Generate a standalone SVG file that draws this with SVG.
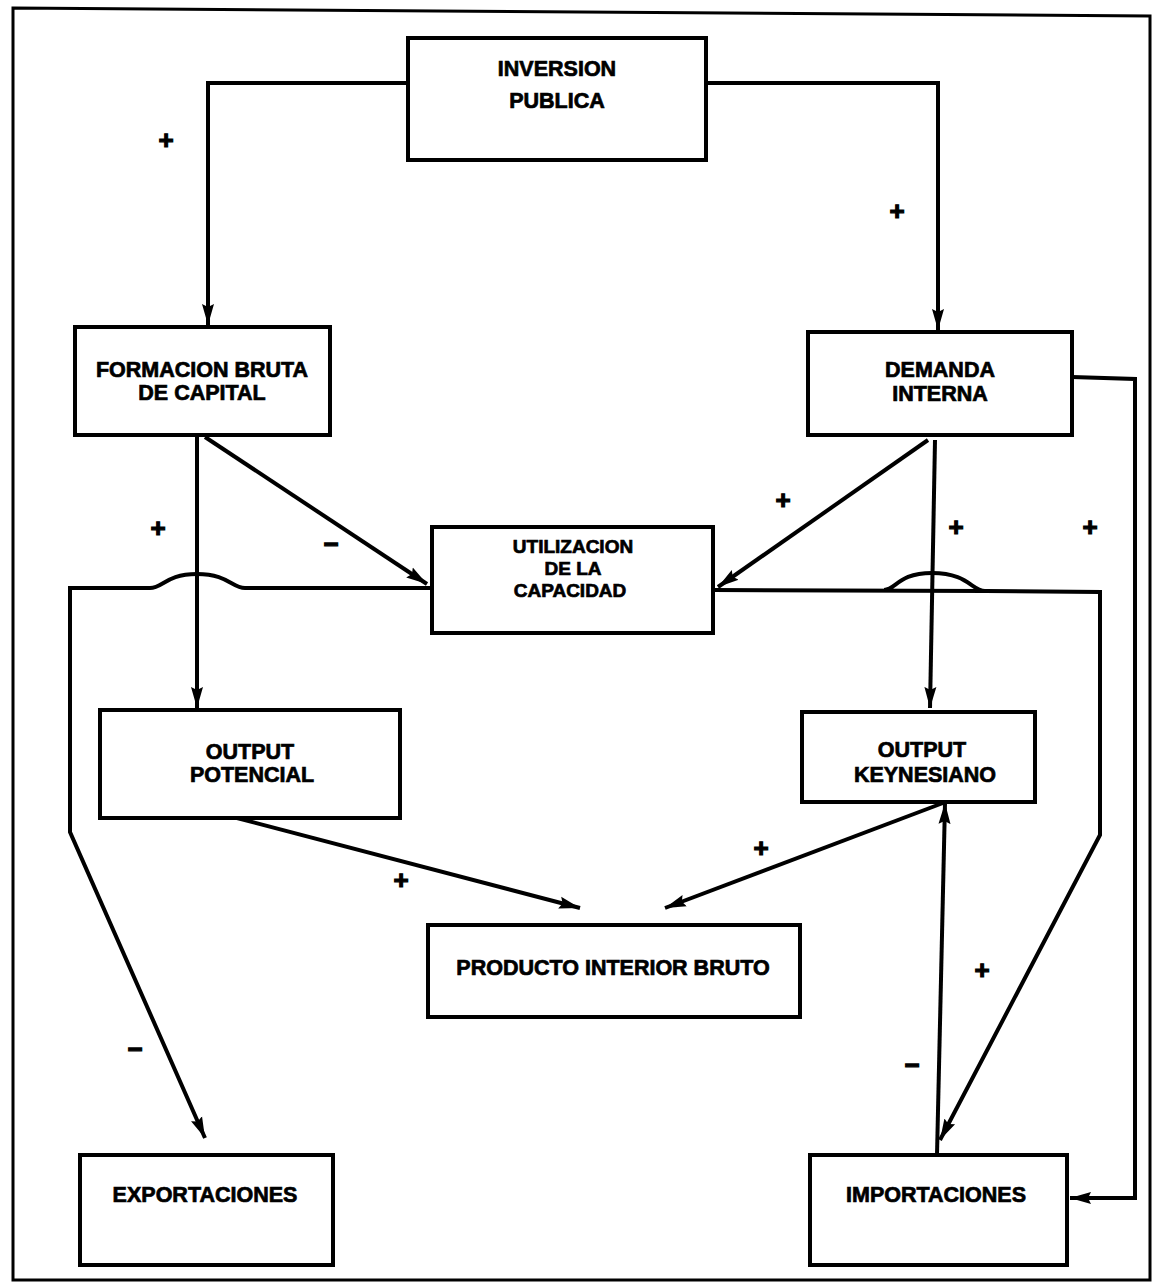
<svg xmlns="http://www.w3.org/2000/svg" width="1157" height="1287" viewBox="0 0 1157 1287">
<style>
.box{fill:#fff;stroke:#000;stroke-width:4}
.t{font-family:"Liberation Sans",Arial,sans-serif;font-weight:bold;font-size:21.5px;text-anchor:middle;fill:#000;stroke:#000;stroke-width:0.7}
.u{font-size:19px}
.c{fill:none;stroke:#000;stroke-width:4;stroke-linejoin:miter}
.s{font-family:"Liberation Sans",Arial,sans-serif;font-weight:bold;font-size:26px;text-anchor:middle;fill:#000;stroke:#000;stroke-width:1.2}
</style>
<defs>
<marker id="ah" markerUnits="userSpaceOnUse" markerWidth="24" markerHeight="16" refX="21" refY="8" orient="auto">
<path d="M0,2 L21,8 L0,14 L3,8 Z" fill="#000"/>
</marker>
</defs>
<rect width="1157" height="1287" fill="#fff"/>
<path d="M13,8 L1150,16 L1150,1280 L13,1280 Z" fill="none" stroke="#000" stroke-width="3"/>

<g id="connectors">
<path class="c" d="M408,83 L208,83 L208,325" marker-end="url(#ah)"/>
<path class="c" d="M706,83 L938,83 L938,330" marker-end="url(#ah)"/>
<path class="c" d="M197,437 L197,708" marker-end="url(#ah)"/>
<path class="c" d="M205,437 L427,584" marker-end="url(#ah)"/>
<path class="c" d="M928,440 L718,587" marker-end="url(#ah)"/>
<path class="c" d="M935,440 L930,708" marker-end="url(#ah)"/>
<path class="c" d="M432,588 L245,588 C232,588 228,574 197,574 C166,574 163,588 150,588 L70,588 L70,832 L205,1138" marker-end="url(#ah)"/>
<path class="c" d="M713,590 L985,591 C972,591 968,573 932,573 C898,573 896,590 884,590" />
<path class="c" d="M985,591 L1100,592 L1100,835 L940,1140" marker-end="url(#ah)"/>
<path class="c" d="M1072,377 L1135,379 L1135,1198 L1070,1198" marker-end="url(#ah)"/>
<path class="c" d="M237,818 L580,908" marker-end="url(#ah)"/>
<path class="c" d="M943,803 L665,908" marker-end="url(#ah)"/>
<path class="c" d="M937,1155 L945,803" marker-end="url(#ah)"/>
</g>

<g id="signs">
<text class="s" x="166" y="149">+</text>
<text class="s" x="897" y="220">+</text>
<text class="s" x="158" y="537">+</text>
<text class="s" x="331" y="553">−</text>
<text class="s" x="783" y="509">+</text>
<text class="s" x="956" y="536">+</text>
<text class="s" x="1090" y="536">+</text>
<text class="s" x="401" y="889">+</text>
<text class="s" x="761" y="857">+</text>
<text class="s" x="982" y="979">+</text>
<text class="s" x="912" y="1074">−</text>
<text class="s" x="135" y="1058">−</text>
</g>

<g id="inversion"><rect class="box" x="408" y="38" width="298" height="122"/><text class="t" x="557" y="76">INVERSION</text><text class="t" x="557" y="108">PUBLICA</text></g>
<g id="formacion"><rect class="box" x="75" y="327" width="255" height="108"/><text class="t" x="202" y="377">FORMACION BRUTA</text><text class="t" x="202" y="400">DE CAPITAL</text></g>
<g id="demanda"><rect class="box" x="808" y="332" width="264" height="103"/><text class="t" x="940" y="377">DEMANDA</text><text class="t" x="940" y="401">INTERNA</text></g>
<g id="utilizacion"><rect class="box" x="432" y="527" width="281" height="106"/><text class="t u" x="573" y="553">UTILIZACION</text><text class="t u" x="573" y="575">DE LA</text><text class="t u" x="570" y="597">CAPACIDAD</text></g>
<g id="potencial"><rect class="box" x="100" y="710" width="300" height="108"/><text class="t" x="250" y="759">OUTPUT</text><text class="t" x="252" y="782">POTENCIAL</text></g>
<g id="keynesiano"><rect class="box" x="802" y="712" width="233" height="90"/><text class="t" x="922" y="757">OUTPUT</text><text class="t" x="925" y="782">KEYNESIANO</text></g>
<g id="pib"><rect class="box" x="428" y="925" width="372" height="92"/><text class="t" x="613" y="975">PRODUCTO INTERIOR BRUTO</text></g>
<g id="exportaciones"><rect class="box" x="80" y="1155" width="253" height="110"/><text class="t" x="205" y="1202">EXPORTACIONES</text></g>
<g id="importaciones"><rect class="box" x="810" y="1155" width="257" height="110"/><text class="t" x="936" y="1202">IMPORTACIONES</text></g>
</svg>
